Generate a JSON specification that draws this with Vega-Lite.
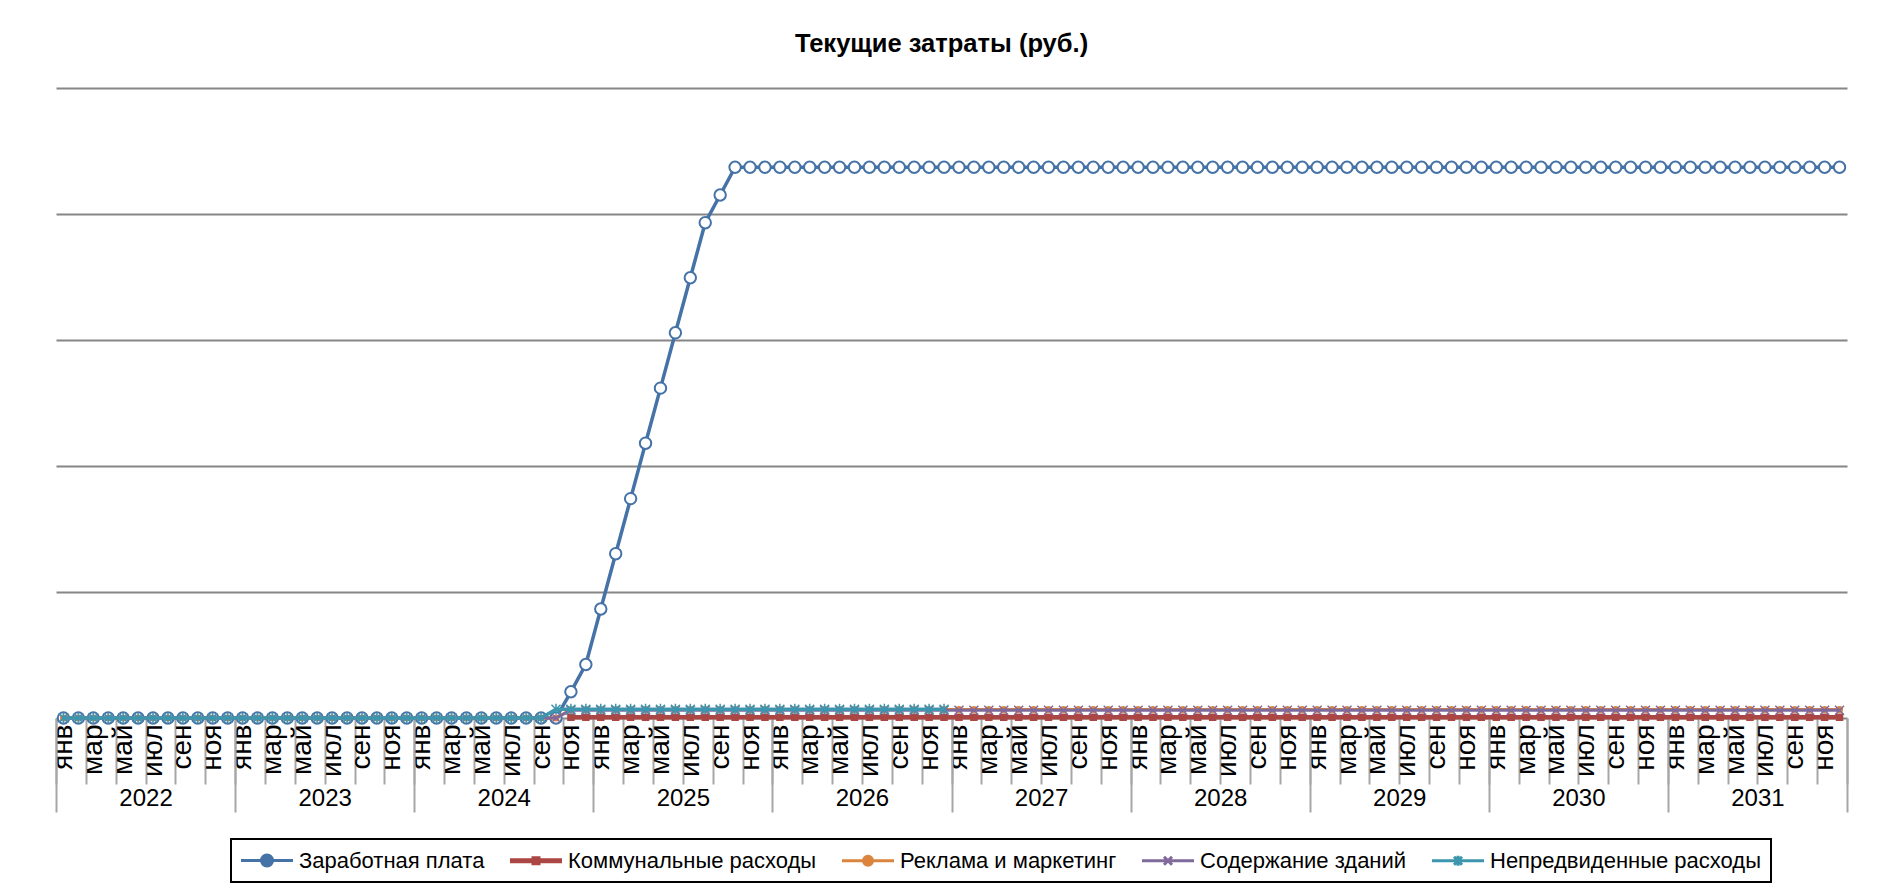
{
"$schema": "https://vega.github.io/schema/vega-lite/v6.json",
"width": 1791,
"height": 630,
"autosize": "none",
"padding": {"left": 56, "top": 88, "right": 32, "bottom": 172},
"background": "white",
"title": {"text": "Текущие затраты (руб.)", "font": "Liberation Sans", "fontSize": 25.5, "fontWeight": "bold", "color": "black", "anchor": "middle", "frame": "group", "offset": 31, "dx": -10},
"config": {"view": {"stroke": null}, "font": "Liberation Sans"},
"data": {"values": [
{"i":0,"a":0,"b":null,"c":0,"d":0,"e":0},
{"i":1,"a":0,"b":null,"c":0,"d":0,"e":0},
{"i":2,"a":0,"b":null,"c":0,"d":0,"e":0},
{"i":3,"a":0,"b":null,"c":0,"d":0,"e":0},
{"i":4,"a":0,"b":null,"c":0,"d":0,"e":0},
{"i":5,"a":0,"b":null,"c":0,"d":0,"e":0},
{"i":6,"a":0,"b":null,"c":0,"d":0,"e":0},
{"i":7,"a":0,"b":null,"c":0,"d":0,"e":0},
{"i":8,"a":0,"b":null,"c":0,"d":0,"e":0},
{"i":9,"a":0,"b":null,"c":0,"d":0,"e":0},
{"i":10,"a":0,"b":null,"c":0,"d":0,"e":0},
{"i":11,"a":0,"b":null,"c":0,"d":0,"e":0},
{"i":12,"a":0,"b":null,"c":0,"d":0,"e":0},
{"i":13,"a":0,"b":null,"c":0,"d":0,"e":0},
{"i":14,"a":0,"b":null,"c":0,"d":0,"e":0},
{"i":15,"a":0,"b":null,"c":0,"d":0,"e":0},
{"i":16,"a":0,"b":null,"c":0,"d":0,"e":0},
{"i":17,"a":0,"b":null,"c":0,"d":0,"e":0},
{"i":18,"a":0,"b":null,"c":0,"d":0,"e":0},
{"i":19,"a":0,"b":null,"c":0,"d":0,"e":0},
{"i":20,"a":0,"b":null,"c":0,"d":0,"e":0},
{"i":21,"a":0,"b":null,"c":0,"d":0,"e":0},
{"i":22,"a":0,"b":null,"c":0,"d":0,"e":0},
{"i":23,"a":0,"b":null,"c":0,"d":0,"e":0},
{"i":24,"a":0,"b":null,"c":0,"d":0,"e":0},
{"i":25,"a":0,"b":null,"c":0,"d":0,"e":0},
{"i":26,"a":0,"b":null,"c":0,"d":0,"e":0},
{"i":27,"a":0,"b":null,"c":0,"d":0,"e":0},
{"i":28,"a":0,"b":null,"c":0,"d":0,"e":0},
{"i":29,"a":0,"b":null,"c":0,"d":0,"e":0},
{"i":30,"a":0,"b":null,"c":0,"d":0,"e":0},
{"i":31,"a":0,"b":null,"c":0,"d":0,"e":0},
{"i":32,"a":0,"b":null,"c":0,"d":0,"e":0},
{"i":33,"a":0,"b":null,"c":0,"d":0,"e":35000},
{"i":34,"a":104000,"b":3000,"c":34000,"d":31000,"e":35000},
{"i":35,"a":212500,"b":3000,"c":34000,"d":31000,"e":35000},
{"i":36,"a":432500,"b":3000,"c":34000,"d":31000,"e":35000},
{"i":37,"a":652000,"b":3000,"c":34000,"d":31000,"e":35000},
{"i":38,"a":870500,"b":3000,"c":34000,"d":31000,"e":35000},
{"i":39,"a":1090500,"b":3000,"c":34000,"d":31000,"e":35000},
{"i":40,"a":1309000,"b":3000,"c":34000,"d":31000,"e":35000},
{"i":41,"a":1528500,"b":3000,"c":34000,"d":31000,"e":35000},
{"i":42,"a":1747000,"b":3000,"c":34000,"d":31000,"e":35000},
{"i":43,"a":1965500,"b":3000,"c":34000,"d":31000,"e":35000},
{"i":44,"a":2075500,"b":3000,"c":34000,"d":31000,"e":35000},
{"i":45,"a":2185500,"b":3000,"c":34000,"d":31000,"e":35000},
{"i":46,"a":2185500,"b":3000,"c":34000,"d":31000,"e":35000},
{"i":47,"a":2185500,"b":3000,"c":34000,"d":31000,"e":35000},
{"i":48,"a":2185500,"b":3000,"c":34000,"d":31000,"e":35000},
{"i":49,"a":2185500,"b":3000,"c":34000,"d":31000,"e":35000},
{"i":50,"a":2185500,"b":3000,"c":34000,"d":31000,"e":35000},
{"i":51,"a":2185500,"b":3000,"c":34000,"d":31000,"e":35000},
{"i":52,"a":2185500,"b":3000,"c":34000,"d":31000,"e":35000},
{"i":53,"a":2185500,"b":3000,"c":34000,"d":31000,"e":35000},
{"i":54,"a":2185500,"b":3000,"c":34000,"d":31000,"e":35000},
{"i":55,"a":2185500,"b":3000,"c":34000,"d":31000,"e":35000},
{"i":56,"a":2185500,"b":3000,"c":34000,"d":31000,"e":35000},
{"i":57,"a":2185500,"b":3000,"c":34000,"d":31000,"e":35000},
{"i":58,"a":2185500,"b":3000,"c":34000,"d":31000,"e":35000},
{"i":59,"a":2185500,"b":3000,"c":34000,"d":31000,"e":35000},
{"i":60,"a":2185500,"b":3000,"c":34000,"d":31000,"e":null},
{"i":61,"a":2185500,"b":3000,"c":34000,"d":31000,"e":null},
{"i":62,"a":2185500,"b":3000,"c":34000,"d":31000,"e":null},
{"i":63,"a":2185500,"b":3000,"c":34000,"d":31000,"e":null},
{"i":64,"a":2185500,"b":3000,"c":34000,"d":31000,"e":null},
{"i":65,"a":2185500,"b":3000,"c":34000,"d":31000,"e":null},
{"i":66,"a":2185500,"b":3000,"c":34000,"d":31000,"e":null},
{"i":67,"a":2185500,"b":3000,"c":34000,"d":31000,"e":null},
{"i":68,"a":2185500,"b":3000,"c":34000,"d":31000,"e":null},
{"i":69,"a":2185500,"b":3000,"c":34000,"d":31000,"e":null},
{"i":70,"a":2185500,"b":3000,"c":34000,"d":31000,"e":null},
{"i":71,"a":2185500,"b":3000,"c":34000,"d":31000,"e":null},
{"i":72,"a":2185500,"b":3000,"c":34000,"d":31000,"e":null},
{"i":73,"a":2185500,"b":3000,"c":34000,"d":31000,"e":null},
{"i":74,"a":2185500,"b":3000,"c":34000,"d":31000,"e":null},
{"i":75,"a":2185500,"b":3000,"c":34000,"d":31000,"e":null},
{"i":76,"a":2185500,"b":3000,"c":34000,"d":31000,"e":null},
{"i":77,"a":2185500,"b":3000,"c":34000,"d":31000,"e":null},
{"i":78,"a":2185500,"b":3000,"c":34000,"d":31000,"e":null},
{"i":79,"a":2185500,"b":3000,"c":34000,"d":31000,"e":null},
{"i":80,"a":2185500,"b":3000,"c":34000,"d":31000,"e":null},
{"i":81,"a":2185500,"b":3000,"c":34000,"d":31000,"e":null},
{"i":82,"a":2185500,"b":3000,"c":34000,"d":31000,"e":null},
{"i":83,"a":2185500,"b":3000,"c":34000,"d":31000,"e":null},
{"i":84,"a":2185500,"b":3000,"c":34000,"d":31000,"e":null},
{"i":85,"a":2185500,"b":3000,"c":34000,"d":31000,"e":null},
{"i":86,"a":2185500,"b":3000,"c":34000,"d":31000,"e":null},
{"i":87,"a":2185500,"b":3000,"c":34000,"d":31000,"e":null},
{"i":88,"a":2185500,"b":3000,"c":34000,"d":31000,"e":null},
{"i":89,"a":2185500,"b":3000,"c":34000,"d":31000,"e":null},
{"i":90,"a":2185500,"b":3000,"c":34000,"d":31000,"e":null},
{"i":91,"a":2185500,"b":3000,"c":34000,"d":31000,"e":null},
{"i":92,"a":2185500,"b":3000,"c":34000,"d":31000,"e":null},
{"i":93,"a":2185500,"b":3000,"c":34000,"d":31000,"e":null},
{"i":94,"a":2185500,"b":3000,"c":34000,"d":31000,"e":null},
{"i":95,"a":2185500,"b":3000,"c":34000,"d":31000,"e":null},
{"i":96,"a":2185500,"b":3000,"c":34000,"d":31000,"e":null},
{"i":97,"a":2185500,"b":3000,"c":34000,"d":31000,"e":null},
{"i":98,"a":2185500,"b":3000,"c":34000,"d":31000,"e":null},
{"i":99,"a":2185500,"b":3000,"c":34000,"d":31000,"e":null},
{"i":100,"a":2185500,"b":3000,"c":34000,"d":31000,"e":null},
{"i":101,"a":2185500,"b":3000,"c":34000,"d":31000,"e":null},
{"i":102,"a":2185500,"b":3000,"c":34000,"d":31000,"e":null},
{"i":103,"a":2185500,"b":3000,"c":34000,"d":31000,"e":null},
{"i":104,"a":2185500,"b":3000,"c":34000,"d":31000,"e":null},
{"i":105,"a":2185500,"b":3000,"c":34000,"d":31000,"e":null},
{"i":106,"a":2185500,"b":3000,"c":34000,"d":31000,"e":null},
{"i":107,"a":2185500,"b":3000,"c":34000,"d":31000,"e":null},
{"i":108,"a":2185500,"b":3000,"c":34000,"d":31000,"e":null},
{"i":109,"a":2185500,"b":3000,"c":34000,"d":31000,"e":null},
{"i":110,"a":2185500,"b":3000,"c":34000,"d":31000,"e":null},
{"i":111,"a":2185500,"b":3000,"c":34000,"d":31000,"e":null},
{"i":112,"a":2185500,"b":3000,"c":34000,"d":31000,"e":null},
{"i":113,"a":2185500,"b":3000,"c":34000,"d":31000,"e":null},
{"i":114,"a":2185500,"b":3000,"c":34000,"d":31000,"e":null},
{"i":115,"a":2185500,"b":3000,"c":34000,"d":31000,"e":null},
{"i":116,"a":2185500,"b":3000,"c":34000,"d":31000,"e":null},
{"i":117,"a":2185500,"b":3000,"c":34000,"d":31000,"e":null},
{"i":118,"a":2185500,"b":3000,"c":34000,"d":31000,"e":null},
{"i":119,"a":2185500,"b":3000,"c":34000,"d":31000,"e":null}
]},
"resolve": {"axis": {"x": "independent"}},
"layer": [
{
"transform": [{"fold": ["a","b","c","d","e"], "as": ["key","v"]}],
"encoding": {
"x": {"field": "i", "type": "quantitative", "scale": {"domain": [-0.5, 119.5], "nice": false, "zero": false},
"axis": {"orient": "bottom", "values": [-0.5,1.5,3.5,5.5,7.5,9.5,11.5,13.5,15.5,17.5,19.5,21.5,23.5,25.5,27.5,29.5,31.5,33.5,35.5,37.5,39.5,41.5,43.5,45.5,47.5,49.5,51.5,53.5,55.5,57.5,59.5,61.5,63.5,65.5,67.5,69.5,71.5,73.5,75.5,77.5,79.5,81.5,83.5,85.5,87.5,89.5,91.5,93.5,95.5,97.5,99.5,101.5,103.5,105.5,107.5,109.5,111.5,113.5,115.5,117.5,119.5],
"labelExpr": "datum.value > 119 ? '' : ['янв','фев','мар','апр','май','июн','июл','авг','сен','окт','ноя','дек'][(datum.value + 0.5) % 12]",
"labelAngle": 270, "labelFont": "Liberation Sans", "labelFontSize": 28, "labelColor": "black",
"labelOffset": 7.46, "labelPadding": -60, "tickSize": 66, "tickColor": "#a6a6a6", "tickWidth": 2,
"domain": false, "grid": false, "title": null, "labelOverlap": false, "labelFlush": false, "labelBound": false}},
"y": {"field": "v", "type": "quantitative", "scale": {"domain": [0, 2500000], "nice": false},
"axis": {"values": [0,500000,1000000,1500000,2000000,2500000], "labels": false, "ticks": false, "domain": false, "grid": true, "gridColor": "#868686", "gridWidth": 1.8, "title": null}},
"color": {"field": "key", "type": "nominal",
"scale": {"domain": ["a","b","c","d","e"], "range": ["#4572A7","#AA4643","#DB843D","#80699B","#3D96AE"]},
"legend": {"orient": "none", "legendX": 175, "legendY": 751, "direction": "horizontal", "title": null,
"padding": 10, "columnPadding": 19, "symbolSize": 400, "symbolStrokeWidth": 3, "symbolOffset": 0,
"labelOffset": 35, "labelFont": "Liberation Sans", "labelFontSize": 22, "labelColor": "black", "labelLimit": 0,
"strokeColor": "black",
"labelExpr": "datum.value === 'a' ? 'Заработная плата' : datum.value === 'b' ? 'Коммунальные расходы' : datum.value === 'c' ? 'Реклама и маркетинг' : datum.value === 'd' ? 'Содержание зданий' : 'Непредвиденные расходы'",
"encode": {
"legend": {"update": {"strokeWidth": {"value": 2}}},
"symbols": {"update": {
"shape": {"signal": "datum.value === 'a' ? 'M-1.15,0L0.9,0M2,0L4.05,0M2,0A0.55,0.55,0,1,1,0.9,0A0.55,0.55,0,1,1,2,0Z' : datum.value === 'b' ? 'M-1.15,-0.1L4.05,-0.1M-1.15,0.1L4.05,0.1M1,-0.3L1.9,-0.3M1,0L1.9,0M1,0.3L1.9,0.3' : datum.value === 'c' ? 'M-1.15,0L4.05,0M1.9,0A0.45,0.45,0,1,1,1,0A0.45,0.45,0,1,1,1.9,0M1.65,0A0.2,0.2,0,1,1,1.25,0A0.2,0.2,0,1,1,1.65,0' : datum.value === 'd' ? 'M-1.15,0L4.05,0M1.05,-0.4L1.85,0.4M1.05,0.4L1.85,-0.4' : 'M-1.15,0L4.05,0M1.05,-0.4L1.85,0.4M1.05,0.4L1.85,-0.4M1.45,-0.5L1.45,0.5'"},
"stroke": {"scale": "color", "field": "value"},
"fill": {"value": "transparent"},
"strokeWidth": {"value": 3},
"opacity": {"value": 1}
}}}}
}
},
"layer": [
{"transform": [{"filter": "datum.key === 'a'"}], "mark": {"type": "line", "strokeWidth": 3.5}},
{"transform": [{"filter": "datum.key === 'a'"}], "mark": {"type": "point", "shape": "circle", "filled": false, "fill": "white", "strokeWidth": 2, "size": 130, "opacity": 1}},
{"transform": [{"filter": "datum.key === 'b'"}], "mark": {"type": "line", "strokeWidth": 4.5}},
{"transform": [{"filter": "datum.key === 'b'"}], "mark": {"type": "point", "shape": "square", "filled": true, "size": 56, "opacity": 1}},
{"transform": [{"filter": "datum.key === 'c'"}], "mark": {"type": "line", "strokeWidth": 3}},
{"transform": [{"filter": "datum.key === 'c'"}], "mark": {"type": "point", "shape": "circle", "filled": true, "size": 50, "opacity": 1}},
{"transform": [{"filter": "datum.key === 'd'"}], "mark": {"type": "line", "strokeWidth": 3}},
{"transform": [{"filter": "datum.key === 'd'"}], "mark": {"type": "point", "shape": "M-1,-1L1,1M-1,1L1,-1", "filled": false, "strokeWidth": 1.5, "size": 81, "opacity": 1}},
{"transform": [{"filter": "datum.key === 'e'"}], "mark": {"type": "line", "strokeWidth": 3.5}},
{"transform": [{"filter": "datum.key === 'e'"}], "mark": {"type": "point", "shape": "M-1,-1L1,1M-1,1L1,-1M0,-1.2L0,1.2", "filled": false, "strokeWidth": 1.5, "size": 81, "opacity": 1}}
]
},
{
"mark": {"type": "point", "opacity": 0},
"encoding": {
"x": {"field": "i", "type": "quantitative", "scale": {"domain": [-0.5, 119.5], "nice": false, "zero": false},
"axis": {"orient": "bottom", "values": [-0.5,11.5,23.5,35.5,47.5,59.5,71.5,83.5,95.5,107.5,119.5],
"labelExpr": "datum.value > 119 ? '' : '' + (2022 + (datum.value + 0.5) / 12)",
"labelAngle": 0, "labelFont": "Liberation Sans", "labelFontSize": 24, "labelColor": "black",
"labelOffset": 89.55, "labelPadding": -26, "tickSize": 94, "tickColor": "#a6a6a6", "tickWidth": 2,
"domain": false, "grid": false, "title": null, "labelOverlap": false, "labelFlush": false, "labelBound": false}},
"y": {"field": "a", "type": "quantitative"}
}
}
]
}
